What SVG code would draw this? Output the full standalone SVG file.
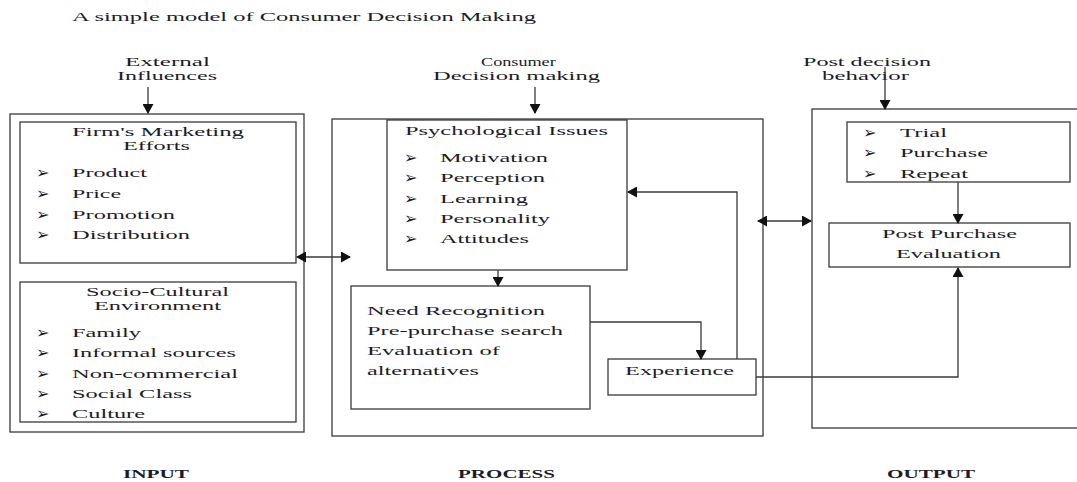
<svg xmlns="http://www.w3.org/2000/svg" width="1077" height="482" viewBox="0 0 1077 482">
<defs>
<style>
.t{font-family:"Liberation Serif","Times New Roman",serif;font-size:13px;fill:#1c1c28}
.h{font-family:"Liberation Serif","Times New Roman",serif;font-size:13px;font-weight:bold;fill:#1c1c28}
.b{font-family:"DejaVu Sans",sans-serif;font-size:16px;font-weight:bold;fill:#1c1c28}
.box{fill:#fff;stroke:#3a3a3a;stroke-width:1.3}
.ln{fill:none;stroke:#3a3a3a;stroke-width:1.3}
</style>
<marker id="ah" markerUnits="userSpaceOnUse" markerWidth="10" markerHeight="11" refX="9" refY="5.5" orient="auto-start-reverse" viewBox="0 0 10 11">
<path d="M0,0 L10,5.5 L0,11 z" fill="#111"/>
</marker>
</defs>
<rect width="1077" height="482" fill="#fff"/>

<text class="t" x="72" y="21" textLength="464" lengthAdjust="spacingAndGlyphs">A simple model of Consumer Decision Making</text>

<g id="input">
<rect class="box" x="10" y="114" width="294" height="318"/>
<text class="t" x="125" y="66" textLength="85" lengthAdjust="spacingAndGlyphs">External</text>
<text class="t" x="117" y="80" textLength="100" lengthAdjust="spacingAndGlyphs">Influences</text>
<text class="h" x="123" y="478" textLength="66" lengthAdjust="spacingAndGlyphs">INPUT</text>
</g>

<g id="marketing">
<rect class="box" x="20" y="122" width="276" height="141"/>
<text class="t" x="72" y="136" textLength="172" lengthAdjust="spacingAndGlyphs">Firm's Marketing</text>
<text class="t" x="123" y="150" textLength="67" lengthAdjust="spacingAndGlyphs">Efforts</text>
<text class="b" x="36" y="178">➢</text><text class="t" x="72" y="177" textLength="75" lengthAdjust="spacingAndGlyphs">Product</text>
<text class="b" x="36" y="199">➢</text><text class="t" x="72" y="198" textLength="49" lengthAdjust="spacingAndGlyphs">Price</text>
<text class="b" x="36" y="220">➢</text><text class="t" x="72" y="219" textLength="103" lengthAdjust="spacingAndGlyphs">Promotion</text>
<text class="b" x="36" y="240">➢</text><text class="t" x="72" y="239" textLength="118" lengthAdjust="spacingAndGlyphs">Distribution</text>
</g>

<g id="socio">
<rect class="box" x="20" y="282" width="276" height="140"/>
<text class="t" x="86" y="296" textLength="143" lengthAdjust="spacingAndGlyphs">Socio-Cultural</text>
<text class="t" x="94" y="310" textLength="127" lengthAdjust="spacingAndGlyphs">Environment</text>
<text class="b" x="36" y="338">➢</text><text class="t" x="72" y="337" textLength="69" lengthAdjust="spacingAndGlyphs">Family</text>
<text class="b" x="36" y="358">➢</text><text class="t" x="72" y="357" textLength="164" lengthAdjust="spacingAndGlyphs">Informal sources</text>
<text class="b" x="36" y="379">➢</text><text class="t" x="72" y="378" textLength="166" lengthAdjust="spacingAndGlyphs">Non-commercial</text>
<text class="b" x="36" y="399">➢</text><text class="t" x="72" y="398" textLength="120" lengthAdjust="spacingAndGlyphs">Social Class</text>
<text class="b" x="36" y="419">➢</text><text class="t" x="72" y="418" textLength="73" lengthAdjust="spacingAndGlyphs">Culture</text>
</g>

<g id="process">
<rect class="box" x="332" y="119" width="431" height="317"/>
<text class="t" transform="translate(481,66) scale(1.4,1)" x="0" y="0">Consumer</text>
<text class="t" x="433" y="80" textLength="167" lengthAdjust="spacingAndGlyphs">Decision making</text>
<text class="h" x="458" y="478" textLength="97" lengthAdjust="spacingAndGlyphs">PROCESS</text>
</g>

<g id="psych">
<rect class="box" x="387" y="120" width="240" height="150"/>
<text class="t" x="405" y="135" textLength="203" lengthAdjust="spacingAndGlyphs">Psychological Issues</text>
<text class="b" x="404" y="163">➢</text><text class="t" x="440" y="162" textLength="108" lengthAdjust="spacingAndGlyphs">Motivation</text>
<text class="b" x="404" y="183">➢</text><text class="t" x="440" y="182" textLength="105" lengthAdjust="spacingAndGlyphs">Perception</text>
<text class="b" x="404" y="204">➢</text><text class="t" x="440" y="203" textLength="88" lengthAdjust="spacingAndGlyphs">Learning</text>
<text class="b" x="404" y="224">➢</text><text class="t" x="440" y="223" textLength="110" lengthAdjust="spacingAndGlyphs">Personality</text>
<text class="b" x="404" y="244">➢</text><text class="t" x="440" y="243" textLength="89" lengthAdjust="spacingAndGlyphs">Attitudes</text>
</g>

<g id="need">
<rect class="box" x="351" y="286" width="239" height="123"/>
<text class="t" x="367" y="315" textLength="178" lengthAdjust="spacingAndGlyphs">Need Recognition</text>
<text class="t" x="367" y="335" textLength="196" lengthAdjust="spacingAndGlyphs">Pre-purchase search</text>
<text class="t" x="367" y="355" textLength="133" lengthAdjust="spacingAndGlyphs">Evaluation of</text>
<text class="t" x="367" y="375" textLength="112" lengthAdjust="spacingAndGlyphs">alternatives</text>
</g>

<g id="experience">
<rect class="box" x="608" y="359" width="148" height="36"/>
<text class="t" x="625" y="375" textLength="109" lengthAdjust="spacingAndGlyphs">Experience</text>
</g>

<g id="output">
<rect class="box" x="812" y="109" width="270" height="319"/>
<text class="t" x="803" y="66" textLength="128" lengthAdjust="spacingAndGlyphs">Post decision</text>
<text class="t" x="822" y="80" textLength="87" lengthAdjust="spacingAndGlyphs">behavior</text>
<text class="h" x="887" y="478" textLength="88" lengthAdjust="spacingAndGlyphs">OUTPUT</text>
</g>

<g id="trial">
<rect class="box" x="847" y="122" width="223" height="60"/>
<text class="b" x="863" y="138">➢</text><text class="t" x="900" y="137" textLength="47" lengthAdjust="spacingAndGlyphs">Trial</text>
<text class="b" x="863" y="158">➢</text><text class="t" x="900" y="157" textLength="88" lengthAdjust="spacingAndGlyphs">Purchase</text>
<text class="b" x="863" y="179">➢</text><text class="t" x="900" y="178" textLength="68" lengthAdjust="spacingAndGlyphs">Repeat</text>
</g>

<g id="postpurchase">
<rect class="box" x="829" y="223" width="241" height="44"/>
<text class="t" x="882" y="238" textLength="135" lengthAdjust="spacingAndGlyphs">Post Purchase</text>
<text class="t" x="896" y="258" textLength="105" lengthAdjust="spacingAndGlyphs">Evaluation</text>
</g>

<g id="connectors">
<line class="ln" x1="148" y1="87" x2="148" y2="113" marker-end="url(#ah)"/>
<line class="ln" x1="535" y1="87" x2="535" y2="113" marker-end="url(#ah)"/>
<line class="ln" x1="885" y1="67" x2="885" y2="109" marker-end="url(#ah)"/>
<line class="ln" x1="297" y1="257" x2="350" y2="257" marker-start="url(#ah)" marker-end="url(#ah)"/>
<line class="ln" x1="758" y1="221" x2="811" y2="221" marker-start="url(#ah)" marker-end="url(#ah)"/>
<line class="ln" x1="498" y1="270" x2="498" y2="286" marker-end="url(#ah)"/>
<polyline class="ln" points="590,322 701,322 701,359" marker-end="url(#ah)"/>
<polyline class="ln" points="737,359 737,192 628,192" marker-end="url(#ah)"/>
<line class="ln" x1="958" y1="182" x2="958" y2="223" marker-end="url(#ah)"/>
<polyline class="ln" points="756,377 958,377 958,268" marker-end="url(#ah)"/>
</g>
</svg>
